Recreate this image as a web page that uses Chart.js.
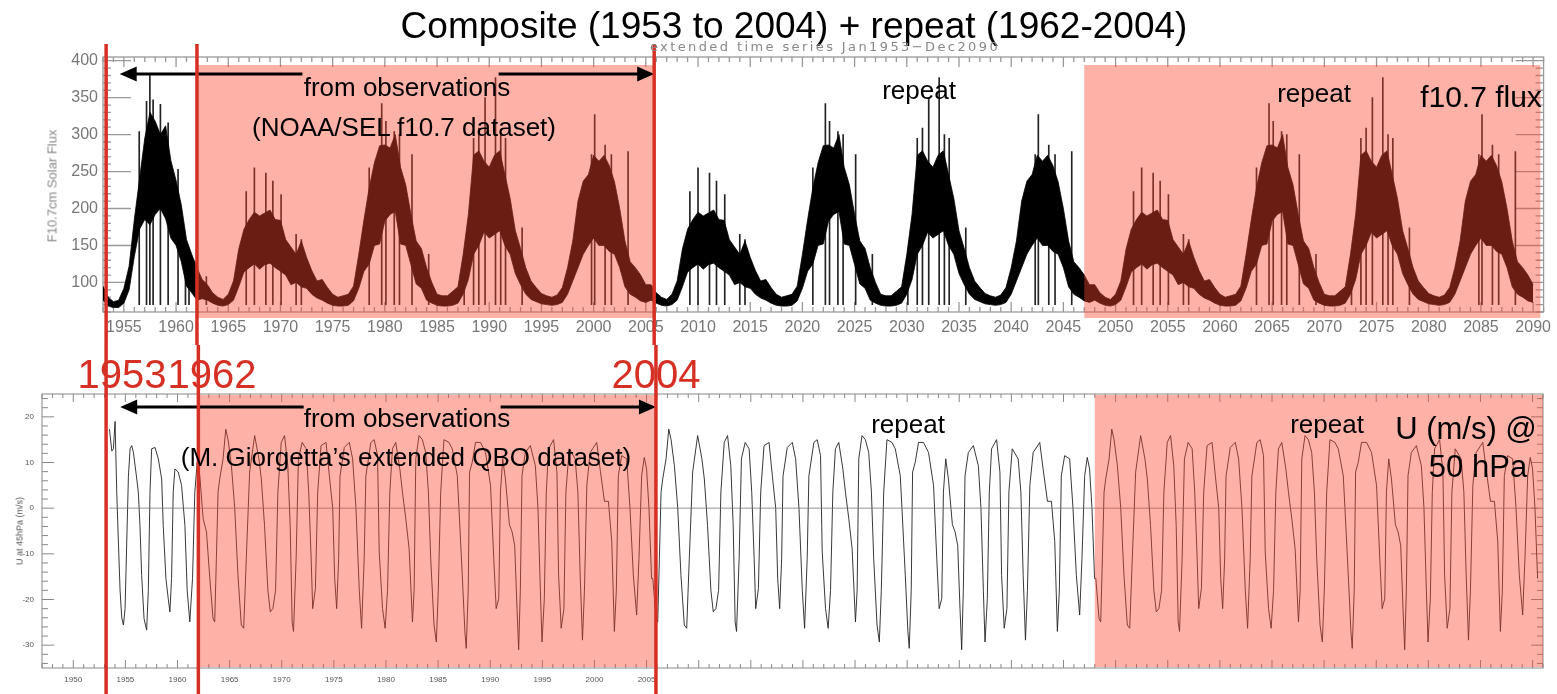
<!DOCTYPE html>
<html>
<head>
<meta charset="utf-8">
<script src="https://cdn.jsdelivr.net/npm/chart.js@4.4.0/dist/chart.umd.min.js"></script>
<style>
  body { margin: 0; width: 1557px; height: 694px; overflow: hidden; position: relative; background: #fff;
         font-family: "Liberation Sans", Arial, Helvetica, sans-serif; }
  canvas { position: absolute; left: 0; }
  #fluxChart { top: 0; }
  #qboChart { top: 345px; }
  .note { position: absolute; white-space: nowrap; transform: translate(-50%, -50%); color: #000; line-height: 1; }
  .red { color: rgb(214, 48, 36); font-size: 40px; }
  .axis-title { position: absolute; white-space: nowrap; color: #888; line-height: 1;
                transform: translate(-50%, -50%) rotate(-90deg); }
</style>
</head>
<body>
<canvas id="fluxChart" width="1557" height="345"></canvas>
<canvas id="qboChart" width="1557" height="349"></canvas>

<div class="note" style="left:794px; top:25px; font-size:37px;">Composite (1953 to 2004) + repeat (1962-2004)</div>
<div class="note" style="left:825px; top:46px; font-size:13px; color:#888; font-family:'DejaVu Sans'; letter-spacing:2.4px;">extended time series Jan1953−Dec2090</div>

<div class="axis-title" style="left:52px; top:186px; font-size:13px;">F10.7cm Solar Flux</div>
<div class="axis-title" style="left:20px; top:531px; font-size:9px; color:#555;">U at 45hPa (m/s)</div>

<div class="note" style="left:407px; top:87px; font-size:26px;">from observations</div>
<div class="note" style="left:404px; top:127px; font-size:26px;">(NOAA/SEL f10.7 dataset)</div>
<div class="note" style="left:919px; top:90px; font-size:26px;">repeat</div>
<div class="note" style="left:1314px; top:93px; font-size:26px;">repeat</div>
<div class="note" style="left:1481px; top:97px; font-size:30px;">f10.7 flux</div>

<div class="note red" style="left:122px; top:374px;">1953</div>
<div class="note red" style="left:212px; top:374px;">1962</div>
<div class="note red" style="left:656px; top:374px;">2004</div>

<div class="note" style="left:407px; top:418px; font-size:26px;">from observations</div>
<div class="note" style="left:406px; top:457px; font-size:26px;">(M. Giorgetta’s extended QBO dataset)</div>
<div class="note" style="left:908px; top:424px; font-size:26px;">repeat</div>
<div class="note" style="left:1327px; top:424px; font-size:26px;">repeat</div>
<div class="note" style="left:1466px; top:428px; font-size:31px;">U (m/s) @</div>
<div class="note" style="left:1478px; top:466px; font-size:31px;">50 hPa</div>

<script>
// observed record runs to mid-2005 on this axis, then the 1963-2005 stretch is laid down twice more
const OBS_END = 2005.5;
const REPEAT_FROM = 1963.0;
const REPEAT_SPAN = 42.5;

// F10.7 flux: half-yearly lower / upper edge of the daily band, starting Jan 1953
const fluxStart = 1953.0;
const fluxLow = [
  76, 68, 66, 66, 72, 90, 135, 172, 185, 178,
  192, 200, 186, 160, 150, 128, 95, 86, 76, 78,
  76, 72, 69, 68, 70, 76, 94, 114, 120, 125,
  118, 124, 126, 120, 115, 110, 97, 100, 94, 92,
  84, 79, 76, 72, 69, 68, 68, 69, 75, 92,
  115, 125, 150, 152, 183, 192, 196, 152, 150, 124,
  98, 92, 76, 72, 69, 68, 68, 69, 72, 84,
  104, 138, 150, 168, 160, 165, 170, 150, 138, 112,
  97, 84, 77, 74, 71, 70, 69, 70, 73, 84,
  102, 120, 138, 150, 160, 150, 150, 142, 138, 120,
  94, 84, 80, 75, 73
];
const fluxHigh = [
  95, 80, 74, 76, 92, 122, 185, 240, 295, 330,
  318, 300, 312, 265, 238, 205, 158, 138, 120, 104,
  97, 86, 80, 77, 84, 102, 145, 172, 185, 195,
  190, 194, 198, 185, 184, 158, 148, 138, 156, 134,
  116, 102, 104, 93, 84, 80, 82, 84, 95, 138,
  185, 228, 262, 285, 286, 282, 300, 256, 232, 192,
  156, 146, 120, 100, 84, 82, 82, 88, 94, 138,
  192, 272, 278, 264, 256, 272, 278, 246, 214, 170,
  146, 120, 102, 93, 85, 82, 80, 83, 93, 120,
  156, 210, 237, 246, 272, 264, 272, 258, 236, 200,
  156, 128, 120, 110, 97
];
// isolated daily spikes standing above the band
const spikeYears = [1956.47, 1957.17, 1957.49, 1957.8, 1958.5, 1959.24, 1960.19, 1960.9, 1961.24, 1962.9,
  1966.72, 1967.5, 1968.6, 1969.27, 1970.06, 1971.5, 1972.0, 1978.5, 1979.7, 1980.1,
  1980.9, 1981.4, 1982.6, 1984.2, 1987.6, 1988.5, 1989.0, 1989.6, 1990.6, 1991.1,
  1991.56, 1993.15, 1999.8, 2000.1, 2001.1, 2001.7, 2003.3];
const spikeFlux = [304, 345, 380, 347, 341, 316, 253, 142, 138, 108,
  223, 255, 248, 237, 219, 165, 158, 255, 342, 318,
  304, 300, 273, 138, 111, 295, 309, 350, 377, 300,
  295, 174, 273, 327, 286, 273, 277];
const spikeFloor = 70;

// QBO zonal wind, monthly-mean turning points (year, m/s)
const qboYears = [
  1953.47, 1953.70, 1953.85, 1954.01, 1954.17, 1954.33, 1954.49, 1954.65, 1954.81, 1954.97,
  1955.13, 1955.29, 1955.45, 1955.61, 1955.77, 1956.09, 1956.24, 1956.40, 1956.56, 1956.79,
  1957.04, 1957.20, 1957.36, 1957.52, 1957.84, 1958.16, 1958.48, 1958.63, 1958.89, 1959.11,
  1959.27, 1959.43, 1959.59, 1959.75, 1960.07, 1960.39, 1960.71, 1960.93, 1961.18, 1961.44,
  1961.66, 1961.89, 1962.14, 1962.46, 1962.78, 1963.10, 1963.41, 1963.57, 1963.73, 1963.89,
  1964.05, 1964.37, 1964.63, 1964.85, 1965.17, 1965.49, 1965.80, 1966.12, 1966.35, 1966.60,
  1966.92, 1967.40, 1967.81, 1968.04, 1968.35, 1968.67, 1968.90, 1969.15, 1969.41, 1969.63,
  1969.95, 1970.27, 1970.58, 1970.81, 1971.00, 1971.13, 1971.38, 1971.60, 1971.96, 1972.34,
  1972.59, 1972.82, 1972.97, 1973.23, 1973.45, 1973.77, 1974.25, 1974.57, 1974.89, 1975.08,
  1975.27, 1975.46, 1975.59, 1976.00, 1976.48, 1976.80, 1977.12, 1977.44, 1977.66, 1977.91,
  1978.07, 1978.55, 1978.87, 1979.19, 1979.35, 1979.67, 1979.92, 1980.15, 1980.37, 1980.62,
  1980.94, 1981.33, 1981.58, 1981.90, 1982.22, 1982.54, 1982.70, 1982.86, 1983.17, 1983.49,
  1983.81, 1984.07, 1984.29, 1984.61, 1984.83, 1985.02, 1985.25, 1985.56, 1986.04, 1986.36,
  1986.84, 1987.00, 1987.32, 1987.57, 1987.70, 1987.89, 1988.02, 1988.27, 1988.59, 1989.07,
  1989.55, 1990.03, 1990.34, 1990.57, 1990.82, 1990.98, 1991.20, 1991.46, 1991.84, 1992.10,
  1992.35, 1992.57, 1992.73, 1992.89, 1993.05, 1993.37, 1993.85, 1994.33, 1994.58, 1994.81,
  1994.97, 1995.19, 1995.38, 1995.60, 1996.08, 1996.40, 1996.56, 1996.81, 1997.07, 1997.26,
  1997.58, 1998.15, 1998.41, 1998.63, 1998.85, 1999.04, 1999.27, 1999.59, 2000.22, 2000.54,
  2000.96, 2001.34, 2001.66, 2001.91, 2002.10, 2002.29, 2002.61, 2003.09, 2003.41, 2003.73,
  2004.05, 2004.27, 2004.53, 2004.78, 2005.00, 2005.23, 2005.48
];
const qboWind = [
  17.3, 12.5, 13, 19, 3.5, -7.4, -18, -24, -25.6, -22,
  -7.4, 7, 13, 13.7, 12.2, 6.4, 3.5, -3.8, -14.7, -24.2,
  -26.7, -18, 3.5, 13, 13.3, 10.8, 6.4, -3.8, -15.4, -19.8,
  -22.7, -15.4, 3.5, 8.6, 7.9, 5, -3.8, -18, -24.9, -15.4,
  3.5, 10, 7, -2.3, -5.2, -15.4, -24.2, -24.9, -11, 3.5,
  6.4, 10.8, 17.3, 15, 9.3, 0, -14.7, -25.6, -26.3, -11,
  7.9, 15.9, 10.8, 6.4, -3.8, -18, -22.7, -22, -18, 3.5,
  14.4, 15.9, 9.3, -3.8, -24.9, -27, -11, 10.8, 14.4, 13,
  3.5, -11, -22, -17.6, 3.5, 13.7, 14.4, 7, 0, -15.4,
  -22, -11, 7, 13.3, 14.4, 10.8, 0, -18, -26.3, -11,
  7, 14.4, 15, 11.5, -9.6, -22, -26.3, -18, 3.5, 13,
  14.4, 8.6, 3.5, -2.3, -8.9, -24.9, -18, 10.8, 15.9, 15,
  12.2, 3.5, -11, -25.6, -29.3, -18, 3.5, 15, 14.4, 13,
  7.1, 0, -14.7, -27, -30.7, -18, 7.9, 10, 14.4, 14.4,
  12.2, 5, -11, -22, -19.8, 3.5, 10.8, 6.4, -3.6, -5.2,
  -8.2, -22, -31, -18, 7.1, 12.2, 13.7, 9.3, 0, -18,
  -29.3, -19.8, 3.5, 13, 15, 7.9, -14.7, -26.3, -22, 3.5,
  13, 10.8, 3.5, -14.7, -28.9, -18, 5, 12.2, 14.4, 8.6,
  1.5, 1.5, -7.3, -27, -18, 7.1, 11.5, 10.8, 0, -14.7,
  -23.4, -11, 7.1, 11.1, 8.6, 0, -15.4
];

const fluxYearTicks = [1955, 1960, 1965, 1970, 1975, 1980, 1985, 1990, 1995, 2000, 2005, 2010, 2015,
  2020, 2025, 2030, 2035, 2040, 2045, 2050, 2055, 2060, 2065, 2070, 2075, 2080, 2085, 2090];
const fluxTicks = [100, 150, 200, 250, 300, 350, 400];
const qboYearTicks = [1950, 1955, 1960, 1965, 1970, 1975, 1980, 1985, 1990, 1995, 2000, 2005];
const qboTicks = [-30, -20, -10, 0, 10, 20];

const fluxYears = fluxLow.map((v, i) => fluxStart + i * 0.5);

// observed part plus the two repeated copies, as {x, y} points
function withRepeats(times, values, toY) {
  const pts = [];
  times.forEach((t, i) => { if (t < OBS_END) pts.push({ x: t, y: toY(values[i]) }); });
  for (let k = 1; k <= 2; k++) {
    times.forEach((t, i) => {
      if (t >= REPEAT_FROM && t < OBS_END) pts.push({ x: t + k * REPEAT_SPAN, y: toY(values[i]) });
    });
  }
  return pts;
}
const same = v => v;

// IDL-style box with inward ticks on all four sides
const frameTicks = {
  id: 'frameTicks',
  beforeDatasetsDraw(chart, args, o) {
    const { ctx, chartArea: a, scales: { x, y } } = chart;
    ctx.save();
    ctx.strokeStyle = o.color;
    ctx.lineWidth = o.width;
    ctx.strokeRect(a.left, a.top, a.right - a.left, a.bottom - a.top);
    ctx.beginPath();
    for (let v = Math.ceil(x.min / o.xMinor) * o.xMinor; v <= x.max; v += o.xMinor) {
      const px = x.getPixelForValue(v);
      const len = (v % o.xMajor === 0) ? o.xMajLen : o.xMinLen;
      ctx.moveTo(px, a.bottom); ctx.lineTo(px, a.bottom - len);
      ctx.moveTo(px, a.top); ctx.lineTo(px, a.top + len);
    }
    for (let v = Math.ceil(y.min / o.yMinor) * o.yMinor; v <= y.max; v += o.yMinor) {
      const py = y.getPixelForValue(v);
      const len = (v % o.yMajor === 0) ? o.yMajLen : o.yMinLen;
      ctx.moveTo(a.left, py); ctx.lineTo(a.left + len, py);
      ctx.moveTo(a.right, py); ctx.lineTo(a.right - len, py);
    }
    ctx.stroke();
    ctx.restore();
  }
};

// shaded spans, the double arrow and the red year markers
const marks = {
  id: 'marks',
  afterDatasetsDraw(chart, args, o) {
    const { ctx, chartArea: a, scales: { x } } = chart;
    ctx.save();
    ctx.fillStyle = o.shade;
    o.boxes.forEach(b => {
      const x0 = x.getPixelForValue(b.from);
      const x1 = Math.min(x.getPixelForValue(b.to), a.right);
      const y0 = a.top + b.top, y1 = a.bottom + b.bottom;
      ctx.fillRect(x0, y0, x1 - x0, y1 - y0);
    });

    const ar = o.arrow;
    const ay = a.top + ar.dy;
    const xl = x.getPixelForValue(ar.from), xr = x.getPixelForValue(ar.to);
    ctx.strokeStyle = '#000';
    ctx.lineWidth = 3;
    ctx.beginPath();
    ctx.moveTo(xl + 12, ay); ctx.lineTo(x.getPixelForValue(ar.gapFrom), ay);
    ctx.moveTo(x.getPixelForValue(ar.gapTo), ay); ctx.lineTo(xr - 12, ay);
    ctx.stroke();
    ctx.fillStyle = '#000';
    [[xl, 1], [xr, -1]].forEach(([tip, dir]) => {
      ctx.beginPath();
      ctx.moveTo(tip, ay);
      ctx.lineTo(tip + dir * 17, ay - 7.5);
      ctx.lineTo(tip + dir * 17, ay + 7.5);
      ctx.closePath();
      ctx.fill();
    });

    ctx.strokeStyle = o.lineColor;
    ctx.lineWidth = 3.5;
    o.lines.forEach(yr => {
      const px = x.getPixelForValue(yr);
      ctx.beginPath();
      ctx.moveTo(px, o.lineTop);
      ctx.lineTo(px, chart.height);
      ctx.stroke();
    });
    ctx.restore();
  }
};

const SHADE = 'rgba(250, 70, 45, 0.42)';
const RED = 'rgb(214, 48, 36)';

const fluxLowPts = withRepeats(fluxYears, fluxLow, same);
const fluxHighPts = withRepeats(fluxYears, fluxHigh, same);
const spikePts = withRepeats(spikeYears, spikeFlux, v => [spikeFloor, v]);

new Chart(document.getElementById('fluxChart'), {
  data: {
    datasets: [
      { type: 'line', data: fluxLowPts, borderColor: '#000', borderWidth: 0.8, pointRadius: 0, fill: false },
      { type: 'line', data: fluxHighPts, borderColor: '#000', borderWidth: 0.8, pointRadius: 0,
        fill: '-1', backgroundColor: '#000' },
      { type: 'bar', data: spikePts, backgroundColor: '#222', barThickness: 1, grouped: false }
    ]
  },
  options: {
    responsive: false,
    animation: false,
    events: [],
    layout: { padding: { top: 57, right: 9, left: 0, bottom: 0 } },
    plugins: {
      legend: { display: false },
      tooltip: { enabled: false },
      frameTicks: { color: '#999', width: 1.3, xMajor: 5, xMinor: 1, xMajLen: 10, xMinLen: 5,
                    yMajor: 50, yMinor: 10, yMajLen: 28, yMinLen: 8 },
      marks: {
        shade: SHADE,
        boxes: [{ from: 1962.0, to: 2005.8, top: 8, bottom: 6 }, { from: 2047.0, to: 2090.7, top: 8, bottom: 6 }],
        arrow: { from: 1954.6, to: 2005.8, gapFrom: 1972.1, gapTo: 1990.9, dy: 17 },
        lines: [1953.3, 1962.0, 2005.8],
        lineColor: RED,
        lineTop: 44
      }
    },
    scales: {
      x: {
        type: 'linear', min: 1953, max: 2091, offset: false,
        grid: { display: false, drawTicks: false, offset: false }, border: { display: false },
        ticks: { padding: 6, color: '#777', font: { family: 'Liberation Sans', size: 16 }, maxRotation: 0,
                 callback: v => String(v) },
        afterBuildTicks: s => { s.ticks = fluxYearTicks.map(v => ({ value: v })); },
        afterFit: s => { s.height = 33; }
      },
      y: {
        min: 60, max: 405,
        grid: { display: false, drawTicks: false }, border: { display: false },
        ticks: { padding: 5, color: '#777', font: { family: 'Liberation Sans', size: 16 },
                 callback: v => String(v) },
        afterBuildTicks: s => { s.ticks = fluxTicks.map(v => ({ value: v })); },
        afterFit: s => { s.width = 103; }
      }
    }
  },
  plugins: [frameTicks, marks]
});

const qboPts = withRepeats(qboYears, qboWind, same);
const zeroPts = [{ x: qboPts[0].x, y: 0 }, { x: qboPts[qboPts.length - 1].x, y: 0 }];

new Chart(document.getElementById('qboChart'), {
  data: {
    datasets: [
      { type: 'line', data: zeroPts, borderColor: '#777', borderWidth: 0.8, pointRadius: 0 },
      { type: 'line', data: qboPts, borderColor: '#222', borderWidth: 0.9, pointRadius: 0 }
    ]
  },
  options: {
    responsive: false,
    animation: false,
    events: [],
    layout: { padding: { top: 49, right: 14, left: 0, bottom: 0 } },
    plugins: {
      legend: { display: false },
      tooltip: { enabled: false },
      frameTicks: { color: '#888', width: 1, xMajor: 5, xMinor: 1, xMajLen: 8, xMinLen: 4,
                    yMajor: 10, yMinor: 2, yMajLen: 12, yMinLen: 6 },
      marks: {
        shade: SHADE,
        boxes: [{ from: 1962.0, to: 2005.9, top: 1, bottom: -1 }, { from: 2048.0, to: 2091, top: 1, bottom: -1 }],
        arrow: { from: 1954.5, to: 2005.9, gapFrom: 1972.1, gapTo: 1991.0, dy: 13 },
        lines: [1953.15, 1962.0, 2005.9],
        lineColor: RED,
        lineTop: 0
      }
    },
    scales: {
      x: {
        type: 'linear', min: 1947, max: 2091,
        grid: { display: false, drawTicks: false }, border: { display: false },
        ticks: { padding: 7, color: '#555', font: { family: 'Liberation Sans', size: 8 }, maxRotation: 0,
                 callback: v => String(v) },
        afterBuildTicks: s => { s.ticks = qboYearTicks.map(v => ({ value: v })); },
        afterFit: s => { s.height = 26; }
      },
      y: {
        min: -35, max: 25,
        grid: { display: false, drawTicks: false }, border: { display: false },
        ticks: { padding: 8, color: '#555', font: { family: 'Liberation Sans', size: 8 },
                 callback: v => String(v) },
        afterBuildTicks: s => { s.ticks = qboTicks.map(v => ({ value: v })); },
        afterFit: s => { s.width = 42; }
      }
    }
  },
  plugins: [frameTicks, marks]
});
</script>
</body>
</html>
